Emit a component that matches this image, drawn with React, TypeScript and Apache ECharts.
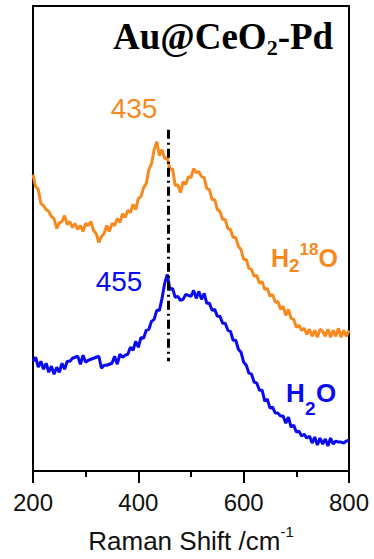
import React, { useEffect, useRef } from "react";
import * as echarts from "echarts";

const xTicks = [200, 400, 600, 800];

const ramanShift = [
  200, 205, 210, 215, 220, 225, 230, 235, 240, 245, 250, 255, 260, 265, 270, 275, 280, 285, 290, 295,
  300, 305, 310, 315, 320, 325, 330, 335, 340, 345, 350, 355, 360, 365, 370, 375, 380, 385, 390, 395,
  400, 405, 410, 415, 420, 425, 430, 435, 440, 445, 450, 455, 460, 465, 470, 475, 480, 485, 490, 495,
  500, 505, 510, 515, 520, 525, 530, 535, 540, 545, 550, 555, 560, 565, 570, 575, 580, 585, 590, 595,
  600, 605, 610, 615, 620, 625, 630, 635, 640, 645, 650, 655, 660, 665, 670, 675, 680, 685, 690, 695,
  700, 705, 710, 715, 720, 725, 730, 735, 740, 745, 750, 755, 760, 765, 770, 775, 780, 785, 790, 795,
  800,
];

const h2o18 = [
  297, 285, 282, 268, 266, 262, 260, 255, 253, 243, 249, 250, 256, 247, 250, 244, 248, 242, 246, 240,
  248, 246, 250, 241, 238, 229, 235, 238, 246, 240, 248, 246, 253, 249, 258, 254, 261, 259, 267, 262,
  273, 275, 284, 288, 302, 308, 322, 330, 316, 322, 313, 314, 302, 303, 286, 287, 279, 290, 287, 295,
  294, 303, 299, 300, 295, 294, 283, 282, 272, 272, 262, 260, 252, 252, 243, 242, 234, 234, 225, 222,
  212, 212, 203, 202, 195, 196, 188, 190, 182, 183, 175, 177, 169, 170, 162, 165, 156, 162, 153, 152,
  144, 146, 141, 143, 137, 142, 135, 141, 134, 142, 140, 135, 142, 134, 141, 135, 143, 134, 141, 135,
  141,
];

const h2o = [
  110, 114, 104, 110, 102, 108, 99, 105, 97, 104, 99, 108, 102, 110, 110, 113, 114, 115, 107, 116,
  109, 111, 112, 113, 114, 115, 103, 106, 106, 107, 108, 115, 107, 117, 114, 116, 117, 124, 121, 130,
  124, 134, 133, 141, 142, 150, 152, 161, 161, 173, 188, 197, 182, 183, 174, 175, 171, 172, 177, 176,
  175, 181, 173, 180, 172, 178, 168, 168, 161, 162, 155, 155, 148, 148, 141, 140, 131, 131, 122, 119,
  109, 106, 98, 97, 89, 88, 81, 81, 70, 72, 63, 64, 58, 58, 55, 55, 48, 54, 44, 46,
  39, 40, 35, 37, 33, 35, 28, 34, 26, 33, 27, 32, 25, 33, 27, 30, 29, 29, 28, 30,
  31,
];

const peakLine = { x: 457, yFrom: 342, yTo: 110 };

const ORANGE = "#F7891E";
const BLUE = "#0A0AF0";
const SANS = "Liberation Sans, Arial";

export default function App() {
  const ref = useRef<HTMLDivElement>(null);

  useEffect(() => {
    document.body.style.margin = "0";
    if (!ref.current) return;
    const chart = echarts.init(ref.current, null, { renderer: "svg" });

    const orangeData = ramanShift.map((x, i) => [x, h2o18[i]]);
    const blueData = ramanShift.map((x, i) => [x, h2o[i]]);

    chart.setOption({
      animation: false,
      backgroundColor: "#ffffff",
      grid: {
        left: 33,
        right: 25,
        top: 6,
        bottom: 87,
        show: true,
        borderColor: "#000",
        borderWidth: 2,
      },
      xAxis: {
        type: "value",
        min: xTicks[0],
        max: xTicks[xTicks.length - 1],
        interval: 200,
        name: "{a|Raman Shift /cm}{s|-1}",
        nameLocation: "middle",
        nameGap: 53,
        nameTextStyle: {
          rich: {
            a: { fontFamily: SANS, fontSize: 26, color: "#111", lineHeight: 30, verticalAlign: "bottom" },
            s: { fontFamily: SANS, fontSize: 15, color: "#111", lineHeight: 30, verticalAlign: "top", padding: [0, 0, 10, 0] },
          },
        },
        axisLine: { show: true, onZero: false, lineStyle: { color: "#000", width: 2 } },
        axisTick: { show: true, inside: false, length: 12, lineStyle: { color: "#000", width: 2 } },
        minorTick: { show: true, splitNumber: 2, length: 6, lineStyle: { color: "#000", width: 2 } },
        splitLine: { show: false },
        axisLabel: {
          fontFamily: SANS,
          fontSize: 24,
          color: "#111",
          margin: 19,
        },
      },
      yAxis: {
        type: "value",
        min: 0,
        max: 466,
        show: false,
        splitLine: { show: false },
      },
      series: [
        {
          type: "line",
          name: "H2 18O",
          data: orangeData,
          showSymbol: false,
          lineStyle: { color: ORANGE, width: 3 },
          itemStyle: { color: ORANGE },
          markLine: {
            silent: true,
            symbol: ["none", "none"],
            label: { show: false },
            lineStyle: { color: "#000", width: 3, type: [9, 4, 2, 4] },
            data: [
              [
                { coord: [peakLine.x, peakLine.yFrom] },
                { coord: [peakLine.x, peakLine.yTo] },
              ],
            ],
          },
        },
        {
          type: "line",
          name: "H2O",
          data: blueData,
          showSymbol: false,
          lineStyle: { color: BLUE, width: 3 },
          itemStyle: { color: BLUE },
        },
      ],
      graphic: [
        {
          type: "text",
          x: 113,
          y: 36,
          style: {
            text: "{m|Au@CeO}{b|2}{m|-Pd}",
            textVerticalAlign: "middle",
            rich: {
              m: { fontFamily: "Liberation Serif, Times New Roman", fontWeight: "bold", fontSize: 37, fill: "#000", lineHeight: 44 },
              b: { fontFamily: "Liberation Serif, Times New Roman", fontWeight: "bold", fontSize: 22, fill: "#000", lineHeight: 20, verticalAlign: "bottom" },
            },
          },
        },
        {
          type: "text",
          x: 134,
          y: 108,
          style: {
            text: "435",
            fontFamily: SANS,
            fontSize: 28,
            fill: ORANGE,
            textAlign: "center",
            textVerticalAlign: "middle",
          },
        },
        {
          type: "text",
          x: 119,
          y: 281,
          style: {
            text: "455",
            fontFamily: SANS,
            fontSize: 28,
            fill: BLUE,
            textAlign: "center",
            textVerticalAlign: "middle",
          },
        },
        {
          type: "text",
          x: 271,
          y: 258,
          style: {
            text: "{m|H}{b|2}{p|18}{m|O}",
            textVerticalAlign: "middle",
            rich: {
              m: { fontFamily: SANS, fontWeight: "bold", fontSize: 25, fill: ORANGE, lineHeight: 34 },
              b: { fontFamily: SANS, fontWeight: "bold", fontSize: 19, fill: ORANGE, lineHeight: 12, verticalAlign: "bottom" },
              p: { fontFamily: SANS, fontWeight: "bold", fontSize: 17, fill: ORANGE, lineHeight: 14, verticalAlign: "top" },
            },
          },
        },
        {
          type: "text",
          x: 286,
          y: 393,
          style: { text: "H", fontFamily: SANS, fontWeight: "bold", fontSize: 26, fill: BLUE, textVerticalAlign: "middle" },
        },
        {
          type: "text",
          x: 305,
          y: 408,
          style: { text: "2", fontFamily: SANS, fontWeight: "bold", fontSize: 19, fill: BLUE, textVerticalAlign: "middle" },
        },
        {
          type: "text",
          x: 316,
          y: 393,
          style: { text: "O", fontFamily: SANS, fontWeight: "bold", fontSize: 26, fill: BLUE, textVerticalAlign: "middle" },
        },
      ],
    });

    return () => {
      chart.dispose();
    };
  }, []);

  return <div ref={ref} style={{ width: 374, height: 559 }} />;
}
